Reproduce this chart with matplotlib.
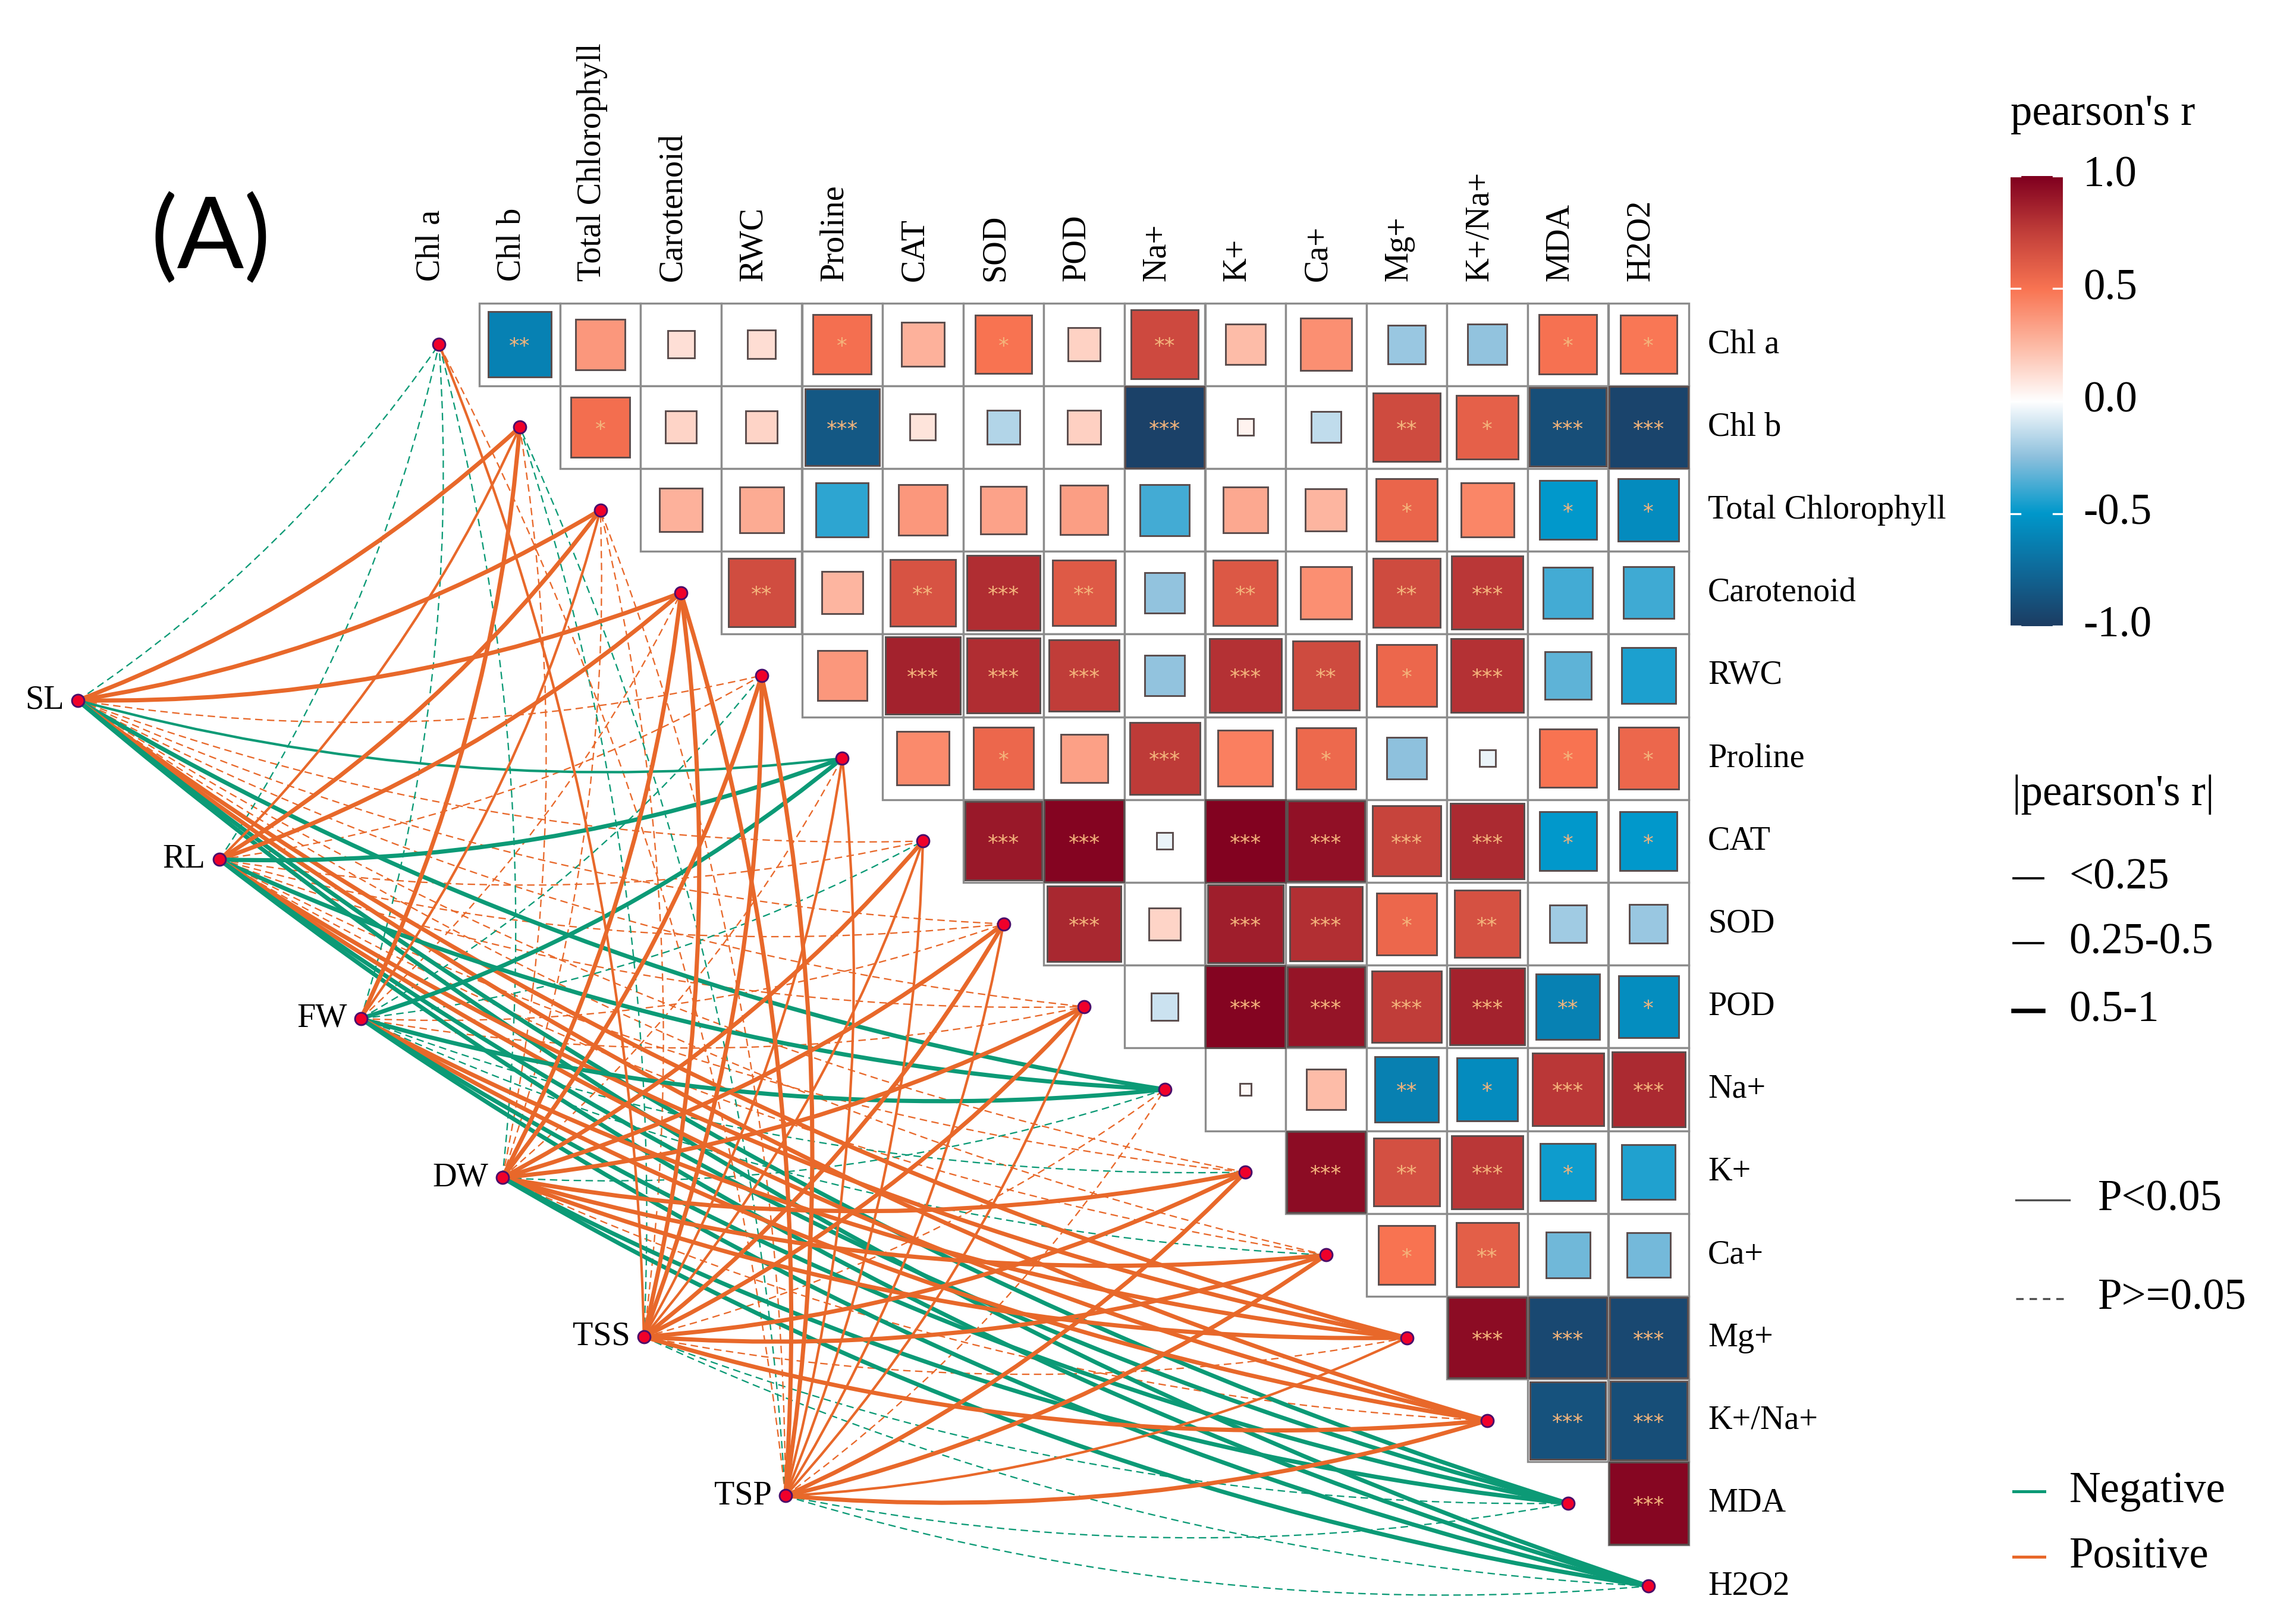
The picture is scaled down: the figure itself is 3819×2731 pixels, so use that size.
import numpy as np
import matplotlib
matplotlib.use("Agg")
import matplotlib.pyplot as plt
from matplotlib.colors import LinearSegmentedColormap, Normalize
from matplotlib.patches import Rectangle, PathPatch
from matplotlib.path import Path

plt.rcParams['lines.scale_dashes'] = False

# ---------------- data ----------------
variables = ["Chl a", "Chl b", "Total Chlorophyll", "Carotenoid", "RWC", "Proline",
             "CAT", "SOD", "POD", "Na+", "K+", "Ca+", "Mg+", "K+/Na+", "MDA", "H2O2"]

# upper triangle of pearson's r (row i -> columns i+1 .. end)
r_upper = [
    [-0.62, 0.37, 0.11, 0.12, 0.52, 0.28, 0.50, 0.16, 0.70, 0.24, 0.40, -0.22, -0.24, 0.51, 0.49],
    [0.53, 0.15, 0.15, -0.85, 0.10, -0.17, 0.17, -0.97, 0.04, -0.14, 0.69, 0.59, -0.90, -0.96],
    [0.28, 0.30, -0.42, 0.37, 0.33, 0.35, -0.38, 0.31, 0.26, 0.57, 0.43, -0.50, -0.57],
    [0.68, 0.26, 0.65, 0.82, 0.62, -0.24, 0.63, 0.40, 0.69, 0.78, -0.38, -0.39],
    [0.37, 0.86, 0.82, 0.75, -0.24, 0.80, 0.69, 0.56, 0.80, -0.33, -0.45],
    [0.42, 0.56, 0.34, 0.76, 0.46, 0.55, -0.25, -0.04, 0.50, 0.56],
    [0.90, 0.98, -0.04, 0.99, 0.93, 0.72, 0.83, -0.50, -0.50],
    [0.84, 0.15, 0.88, 0.81, 0.56, 0.66, -0.21, -0.22],
    [-0.11, 0.98, 0.92, 0.75, 0.86, -0.62, -0.56],
    [0.02, 0.24, -0.63, -0.57, 0.78, 0.83],
    [0.95, 0.67, 0.78, -0.47, -0.44],
    [0.50, 0.60, -0.30, -0.29],
    [0.95, -0.93, -0.93],
    [-0.88, -0.90],
    [0.97],
]
# number of significance stars for each upper-triangle cell
stars_upper = [
    [2, 0, 0, 0, 1, 0, 1, 0, 2, 0, 0, 0, 0, 1, 1],
    [1, 0, 0, 3, 0, 0, 0, 3, 0, 0, 2, 1, 3, 3],
    [0, 0, 0, 0, 0, 0, 0, 0, 0, 1, 0, 1, 1],
    [2, 0, 2, 3, 2, 0, 2, 0, 2, 3, 0, 0],
    [0, 3, 3, 3, 0, 3, 2, 1, 3, 0, 0],
    [0, 1, 0, 3, 0, 1, 0, 0, 1, 1],
    [3, 3, 0, 3, 3, 3, 3, 1, 1],
    [3, 0, 3, 3, 1, 2, 0, 0],
    [0, 3, 3, 3, 3, 2, 1],
    [0, 0, 2, 1, 3, 3],
    [3, 2, 3, 1, 0],
    [1, 2, 0, 0],
    [3, 3, 3],
    [3, 3],
    [3],
]

sources = ["SL", "RL", "FW", "DW", "TSS", "TSP"]
# link r (source x variable) and p values
link_r = [
    [-0.20, 0.60, 0.55, 0.55, 0.20, -0.45, 0.20, 0.20, 0.20, -0.60, 0.20, 0.20, 0.60, 0.60, -0.70, -0.70],
    [-0.20, 0.45, 0.55, 0.55, 0.20, -0.60, 0.20, 0.20, 0.20, -0.60, 0.20, 0.20, 0.60, 0.60, -0.70, -0.70],
    [-0.20, 0.60, 0.40, 0.20, -0.20, -0.55, -0.20, 0.20, 0.20, -0.60, -0.20, -0.20, 0.60, 0.60, -0.70, -0.70],
    [-0.20, 0.20, 0.20, 0.60, 0.60, 0.20, 0.65, 0.65, 0.65, -0.20, 0.70, 0.70, 0.70, 0.20, -0.70, -0.70],
    [0.35, -0.20, 0.20, 0.60, 0.60, 0.40, 0.45, 0.60, 0.60, 0.20, 0.60, 0.60, 0.20, 0.60, -0.20, -0.20],
    [0.20, -0.20, 0.20, 0.60, 0.60, 0.40, 0.45, 0.45, 0.45, 0.20, 0.60, 0.60, 0.45, 0.60, -0.20, -0.20],
]
link_p = [
    [0.30, 0.01, 0.01, 0.01, 0.30, 0.01, 0.30, 0.30, 0.30, 0.01, 0.30, 0.30, 0.01, 0.01, 0.01, 0.01],
    [0.30, 0.01, 0.01, 0.01, 0.30, 0.01, 0.30, 0.30, 0.30, 0.01, 0.30, 0.30, 0.01, 0.01, 0.01, 0.01],
    [0.30, 0.01, 0.01, 0.30, 0.30, 0.01, 0.30, 0.30, 0.30, 0.01, 0.30, 0.30, 0.01, 0.01, 0.01, 0.01],
    [0.30, 0.30, 0.30, 0.01, 0.01, 0.30, 0.01, 0.01, 0.01, 0.30, 0.01, 0.01, 0.01, 0.30, 0.01, 0.01],
    [0.01, 0.30, 0.30, 0.01, 0.01, 0.01, 0.01, 0.01, 0.01, 0.30, 0.01, 0.01, 0.30, 0.01, 0.30, 0.30],
    [0.30, 0.30, 0.30, 0.01, 0.01, 0.01, 0.01, 0.01, 0.01, 0.30, 0.01, 0.01, 0.01, 0.01, 0.30, 0.30],
]

size_labels = ["<0.25", "0.25-0.5", "0.5-1"]
p_labels = ["P<0.05", "P>=0.05"]
sign_labels = ["Negative", "Positive"]
cbar_ticks = [1.0, 0.5, 0.0, -0.5, -1.0]

# ---------------- style ----------------
serif = "Liberation Serif"
cmap = LinearSegmentedColormap.from_list("rb", [
    (0.0, "#1C3D63"), (0.125, "#0F6A9A"), (0.25, "#0098CB"), (0.375, "#8DC0DD"),
    (0.5, "#FFFFFF"), (0.625, "#FDB9A4"), (0.75, "#F97452"), (0.875, "#C23F3A"),
    (1.0, "#80001F")])
norm = Normalize(-1, 1)
col_neg = "#0C9A76"
col_pos = "#E8682A"
widths = [0.55, 1.0, 1.7]
dash = (0, (3.0, 1.8))

W, H = 3819, 2731
fig = plt.figure(figsize=(W / 300, H / 300), dpi=300)
X0, DX, Y0, DY = 738.3, 135.6, 579.2, 139.2
ax = fig.add_axes([0, 0, 1, 1])
ax.set_xlim(-X0 / DX, (W - X0) / DX)
ax.set_ylim((H - Y0) / DY, -Y0 / DY)
ax.set_axis_off()

n = len(variables)

def size_class(v):
    v = abs(v)
    return 0 if v < 0.25 else (1 if v < 0.5 else 2)

# ---------------- links ----------------
src_start = np.array([-4.48, 4.30])
src_step = np.array([1.755, 1.922])
curv = 0.095
src_pos = [src_start + i * src_step for i in range(len(sources))]
for solid_pass in (False, True):
    for si in range(len(sources)):
        p0 = src_pos[si]
        for k in range(n):
            r = link_r[si][k]
            sig = link_p[si][k] < 0.05
            if sig != solid_pass:
                continue
            p2 = np.array([k, k], float)
            d = p2 - p0
            L = np.hypot(*d)
            nrm = np.array([-d[1], d[0]]) / L
            c = (p0 + p2) / 2 + nrm * curv * L
            path = Path([p0, c, p2], [Path.MOVETO, Path.CURVE3, Path.CURVE3])
            patch = PathPatch(path, facecolor='none',
                              edgecolor=col_pos if r > 0 else col_neg,
                              lw=widths[size_class(r)] if sig else widths[0],
                              linestyle='-' if sig else dash,
                              zorder=2 if sig else 1, capstyle='butt')
            ax.add_patch(patch)

# ---------------- heatmap ----------------
for i in range(len(r_upper)):
    for jj in range(len(r_upper[i])):
        j = i + 1 + jj
        ax.add_patch(Rectangle((j - 0.5, i - 0.5), 1, 1, facecolor='white',
                               edgecolor='#8C8C8C', lw=0.8, zorder=3))
for i in range(len(r_upper)):
    for jj, r in enumerate(r_upper[i]):
        j = i + 1 + jj
        s = np.sqrt(abs(r))
        ax.add_patch(Rectangle((j - s / 2, i - s / 2), s, s, facecolor=cmap(norm(r)),
                               edgecolor='#5A4C4C', lw=0.7, zorder=4))
        ns = stars_upper[i][jj]
        if ns:
            ax.text(j, i + 0.03, '*' * ns, ha='center', va='center', fontsize=8.5,
                    color='#F4B57C', zorder=5, family='DejaVu Sans')

# labels
for k, v in enumerate(variables):
    ax.text(k - 0.1, -0.763, v, rotation=90, ha='center', va='bottom',
            fontsize=13.5, family=serif)
    ax.text(15.735, k, v, ha='left', va='center', fontsize=13.5, family=serif)

# nodes
diag = np.arange(n)
ax.plot(diag, diag, 'o', ms=5.0, mfc='#F0002A', mec='#4B0F6B', mew=0.7, zorder=6,
        linestyle='none')
sp = np.array(src_pos)
ax.plot(sp[:, 0], sp[:, 1], 'o', ms=5.0, mfc='#F0002A', mec='#4B0F6B', mew=0.7,
        zorder=6, linestyle='none')
for si, s in enumerate(sources):
    ax.text(src_pos[si][0] - 0.17, src_pos[si][1], s, ha='right', va='center',
            fontsize=13.5, family=serif, zorder=7)

fig.text(354 / W, 1 - 403 / H, "(A)", ha='center', va='center', fontsize=40,
         family='Lato')

# ---------------- legends ----------------
def fx(px):
    return px / W

def fy(py):
    return 1 - py / H

lfs = 17.5
fig.text(fx(3381), fy(192), "pearson's r", ha='left', va='center', fontsize=lfs,
         family=serif)
cax = fig.add_axes([fx(3381), fy(1053), fx(3469) - fx(3381), fy(296) - fy(1053)])
cax.imshow(np.linspace(1, -1, 256).reshape(-1, 1), aspect='auto', cmap=cmap,
           norm=norm, extent=[0, 1, -1, 1])
for t in cbar_ticks:
    cax.plot([0, 0.18], [t, t], color='white', lw=0.8)
    cax.plot([0.82, 1], [t, t], color='white', lw=0.8)
cax.set_xlim(0, 1)
cax.set_ylim(-1, 1)
cax.set_axis_off()
for t in cbar_ticks:
    py = 296 + (1 - t) / 2 * (1053 - 296)
    fig.text(fx(3503), fy(py), f"{t:.1f}", ha='left', va='center', fontsize=lfs,
             family=serif)

fig.text(fx(3384), fy(1336), "|pearson's r|", ha='left', va='center', fontsize=lfs,
         family=serif)
legend_w = [0.9, 0.9, 1.8]
for k, (lab, yy) in enumerate(zip(size_labels, [1477, 1586, 1700])):
    fig.add_artist(plt.Line2D([fx(3386), fx(3436)], [fy(yy), fy(yy)], color='black',
                              lw=legend_w[k]))
    fig.text(fx(3479), fy(yy), lab, ha='left', va='center', fontsize=lfs, family=serif)

for k, (lab, yy) in enumerate(zip(p_labels, [2018, 2184])):
    fig.add_artist(plt.Line2D([fx(3390), fx(3480)], [fy(yy), fy(yy)], color='#4D4D4D',
                              lw=0.8, linestyle='-' if k == 0 else (0, (3.0, 2.4))))
    fig.text(fx(3528), fy(yy), lab, ha='left', va='center', fontsize=lfs, family=serif)

for k, (lab, yy) in enumerate(zip(sign_labels, [2508, 2618])):
    fig.add_artist(plt.Line2D([fx(3386), fx(3438)], [fy(yy), fy(yy)],
                              color=col_neg if k == 0 else col_pos, lw=1.2))
    fig.text(fx(3480), fy(yy), lab, ha='left', va='center', fontsize=lfs, family=serif)

fig.savefig("out.png", dpi=300, facecolor='white')
